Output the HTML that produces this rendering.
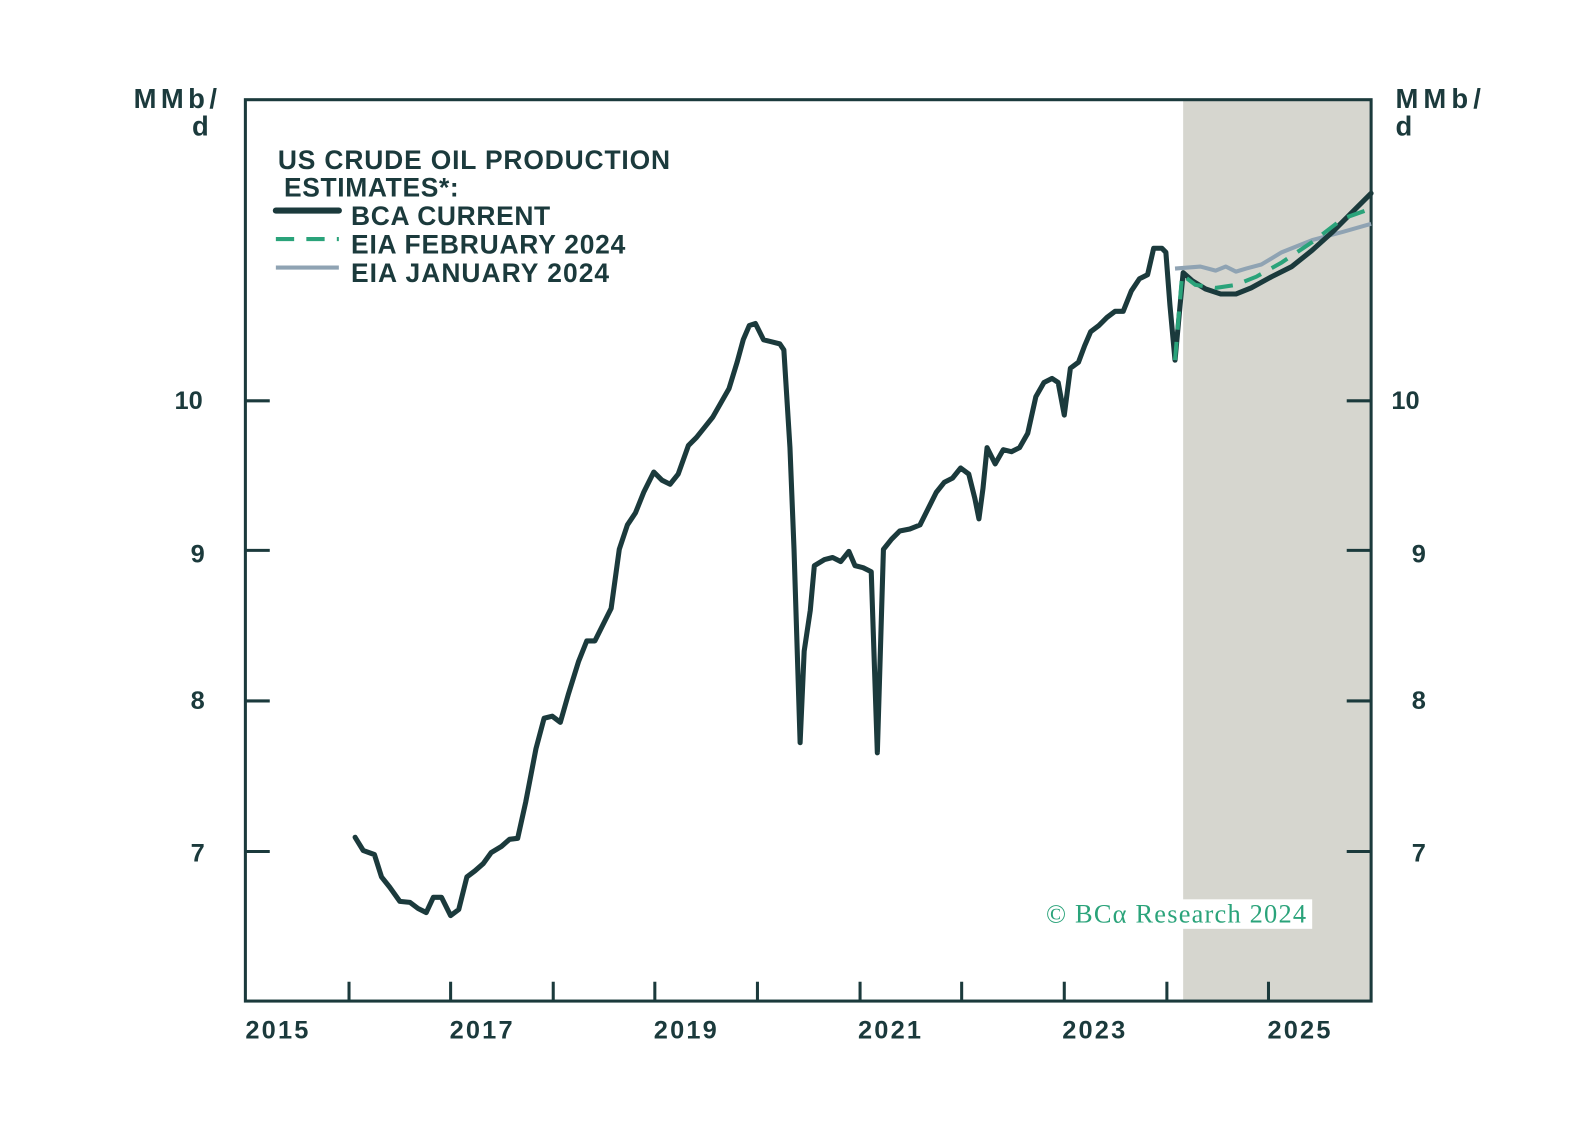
<!DOCTYPE html>
<html><head><meta charset="utf-8"><style>
html,body{margin:0;padding:0;background:#fff;}
svg{display:block;}
text{font-family:"Liberation Sans",sans-serif;font-weight:bold;fill:#1b3a3c;}
</style></head><body>
<svg width="1595" height="1144" viewBox="0 0 1560 1124.5" preserveAspectRatio="none" xmlns="http://www.w3.org/2000/svg">
<g transform="translate(240,0) scale(0.9937,1) translate(-240,0)">
<rect x="1163" y="98" width="185" height="886" fill="#d6d6cf"/>
<g stroke="#1b3a3c" stroke-width="3" fill="none">
<rect x="240" y="98" width="1108" height="886"/>
<line x1="240" y1="837" x2="264" y2="837"/><line x1="240" y1="689" x2="264" y2="689"/><line x1="240" y1="541" x2="264" y2="541"/><line x1="240" y1="394" x2="264" y2="394"/>
<line x1="1324" y1="837" x2="1348" y2="837"/><line x1="1324" y1="689" x2="1348" y2="689"/><line x1="1324" y1="541" x2="1348" y2="541"/><line x1="1324" y1="394" x2="1348" y2="394"/>
<line x1="342" y1="965" x2="342" y2="984"/><line x1="442" y1="965" x2="442" y2="984"/><line x1="543" y1="965" x2="543" y2="984"/><line x1="643" y1="965" x2="643" y2="984"/><line x1="744" y1="965" x2="744" y2="984"/><line x1="845" y1="965" x2="845" y2="984"/><line x1="945" y1="965" x2="945" y2="984"/><line x1="1046" y1="965" x2="1046" y2="984"/><line x1="1147" y1="965" x2="1147" y2="984"/><line x1="1247" y1="965" x2="1247" y2="984"/>
</g>
<g font-size="25">
<text x="198" y="402" text-anchor="end">10</text><text x="200" y="553" text-anchor="end">9</text><text x="200" y="697" text-anchor="end">8</text><text x="200" y="847" text-anchor="end">7</text>
<text x="1368" y="402">10</text><text x="1388" y="553">9</text><text x="1388" y="697">8</text><text x="1388" y="847">7</text>
<text x="240" y="1021" textLength="62">2015</text><text x="441" y="1021" textLength="62">2017</text><text x="642" y="1021" textLength="62">2019</text><text x="843" y="1021" textLength="62">2021</text><text x="1044" y="1021" textLength="62">2023</text><text x="1246" y="1021" textLength="62">2025</text>
</g>
<g font-size="27">
<text x="130" y="106" textLength="82">MMb/</text><text x="204" y="133" text-anchor="end">d</text>
<text x="1372" y="106" textLength="84">MMb/</text><text x="1372" y="133">d</text>
</g>
<g font-size="26">
<text x="272" y="166" textLength="386">US CRUDE OIL PRODUCTION</text>
<text x="278" y="193" textLength="172">ESTIMATES*:</text>
<text x="344" y="221" textLength="196">BCA CURRENT</text>
<text x="344" y="249" textLength="270">EIA FEBRUARY 2024</text>
<text x="344" y="277" textLength="254">EIA JANUARY 2024</text>
</g>
<line x1="270" y1="207" x2="332" y2="207" stroke="#1b3a3c" stroke-width="6" stroke-linecap="round"/>
<line x1="270" y1="235" x2="332" y2="235" stroke="#2aa37a" stroke-width="4" stroke-dasharray="18,12"/>
<line x1="270" y1="263" x2="332" y2="263" stroke="#8fa3b3" stroke-width="4"/>
<rect x="1025" y="884" width="265" height="29" fill="#fff"/>
<text x="1028" y="907" font-size="26" textLength="256" style="font-family:'Liberation Serif',serif;font-weight:normal;fill:#2aa37a">© BCα Research 2024</text>
<polyline fill="none" stroke="#8fa3b3" stroke-width="4" stroke-linejoin="round" points="1155,264 1180,262 1195,266 1205,262 1215,267 1225,264 1240,260 1260,248 1290,236 1320,228 1348,220"/>
<polyline fill="none" stroke="#1b3a3c" stroke-width="5" stroke-linejoin="round" stroke-linecap="round" points="348,823 356,836 367,840 374,862 382,872 392,886 402,887 410,893 418,897 425,882 433,882 442,900 450,894 458,862 466,856 474,849 482,838 492,832 500,825 508,824 516,788 526,736 534,706 542,704 550,710 558,682 568,650 576,630 584,630 592,614 600,598 608,540 616,516 624,504 632,484 642,464 650,472 658,476 666,466 676,438 684,430 692,420 700,410 708,396 716,382 724,356 730,334 736,320 742,318 750,334 758,336 766,338 770,344 776,440 780,540 786,730 790,640 796,600 800,556 810,550 818,548 826,552 834,542 840,556 848,558 856,562 862,740 868,540 876,530 884,522 894,520 904,516 912,500 920,484 928,474 936,470 944,460 952,466 958,490 962,510 966,480 970,440 978,456 986,442 994,444 1002,440 1010,426 1018,390 1026,376 1034,372 1040,376 1046,408 1052,362 1060,356 1066,340 1072,326 1080,320 1088,312 1096,306 1104,306 1112,286 1120,274 1128,270 1134,244 1142,244 1146,248 1150,300 1155,354 1160,300 1163,268 1172,276 1185,284 1200,289 1215,289 1230,283 1250,272 1270,262 1290,246 1310,228 1330,208 1348,190"/>
<polyline fill="none" stroke="#2aa37a" stroke-width="4" stroke-dasharray="18,12" points="1155,354 1162,270 1175,280 1195,283 1215,280 1235,272 1260,258 1290,238 1320,215 1348,205"/>
</g>
</svg>
</body></html>
